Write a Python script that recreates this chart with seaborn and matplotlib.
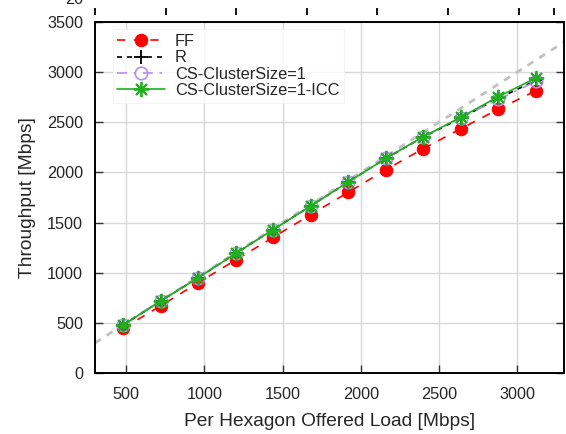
import matplotlib
matplotlib.use("Agg")
import matplotlib.pyplot as plt
import seaborn as sns
import numpy as np

load = [480, 720, 960, 1200, 1440, 1680, 1920, 2160, 2400, 2640, 2880, 3120]
ff = [446, 670, 900, 1127, 1353, 1579, 1802, 2027, 2237, 2436, 2630, 2815]
r = [478, 718, 950, 1192, 1430, 1665, 1905, 2140, 2352, 2542, 2738, 2918]
cs = [478, 718, 950, 1192, 1430, 1665, 1905, 2140, 2355, 2545, 2728, 2908]
icc = [478, 718, 950, 1192, 1430, 1665, 1905, 2140, 2357, 2550, 2756, 2940]
ideal = [300, 3300]

xticks = [500, 1000, 1500, 2000, 2500, 3000]
yticks = [0, 500, 1000, 1500, 2000, 2500, 3000, 3500]

sns.set_theme(style="white")
plt.rcParams['font.family'] = ['Liberation Sans', 'DejaVu Sans']

W, H = 566, 434
fig = plt.figure(figsize=(W / 100, H / 100), dpi=100)
ax = fig.add_axes([95 / W, 61 / H, (564 - 95) / W, (373 - 22) / H])

ax.grid(True, color='#d8d8d8', linewidth=1.0)
ax.set_axisbelow(True)

sns.lineplot(x=ideal, y=ideal, ax=ax, color='#c0c0c0', linestyle=(0, (2.5, 2.5)),
             linewidth=2.0, zorder=1)
sns.lineplot(x=load, y=ff, ax=ax, color='#ff0000', linestyle=(0, (5, 5)), linewidth=1.2,
             marker='o', markersize=9, markeredgecolor='#ff0000', label='FF', zorder=3)
sns.lineplot(x=load, y=r, ax=ax, color='black', linestyle=(0, (3, 3)), linewidth=1.2,
             marker='+', markersize=10, markeredgewidth=1.3, markeredgecolor='black',
             label='R', zorder=4)
sns.lineplot(x=load, y=cs, ax=ax, color='#b48ef2', linestyle=(0, (6, 4, 1.5, 4)), linewidth=1.2,
             marker='o', markersize=9, markerfacecolor='none', markeredgecolor='#b48ef2',
             markeredgewidth=1.2, label='CS-ClusterSize=1', zorder=5)
sns.lineplot(x=load, y=icc, ax=ax, color='#1fb01f', linestyle='-', linewidth=1.2,
             marker=(8, 2, 0), markersize=11, markeredgewidth=1.3, markeredgecolor='#1fb01f',
             label='CS-ClusterSize=1-ICC', zorder=6)

ax.set_xlim(300, 3300)
ax.set_ylim(0, 3500)
ax.set_xticks(xticks)
ax.set_yticks(yticks)
ax.tick_params(axis='both', which='both', direction='in', length=6, width=1.0,
               color='#333333', labelsize=11.7, top=False, right=True, bottom=True, left=True)
ax.tick_params(axis='x', pad=10)
ax.tick_params(axis='y', pad=8.5)
for s in ax.spines.values():
    s.set_visible(True)
    s.set_color('black')
    s.set_linewidth(1.4)

ax.set_xlabel('Per Hexagon Offered Load [Mbps]', fontsize=13.8, labelpad=8)
ax.set_ylabel('Throughput [Mbps]', fontsize=13.8, labelpad=8)

leg = ax.legend(loc='upper left', bbox_to_anchor=(0.02, 1.003), fontsize=11.8,
                handlelength=2.9, handletextpad=0.6, labelspacing=0.08,
                borderpad=0.3, frameon=True, fancybox=False)
leg.get_frame().set_edgecolor('#f2f2f2')
leg.get_frame().set_linewidth(0.8)

# tick marks of the cropped panel above
top = fig.add_axes([95 / W, (H - 15) / H, (554 - 95) / W, 0.001])
top.set_xlim(0, 6.5)
top.set_xticks([0, 1, 2, 3, 4, 5, 6, 6.5])
top.set_yticks([])
top.tick_params(axis='x', direction='in', length=5, width=1.3, color='black',
                labelbottom=False, bottom=True)
for s in top.spines.values():
    s.set_visible(False)
top.patch.set_alpha(0)
fig.text(83 / W, 1 + 8 / H, '20', ha='right', va='top', fontsize=11.7, color='#222222')

fig.savefig('out.png', dpi=100)
